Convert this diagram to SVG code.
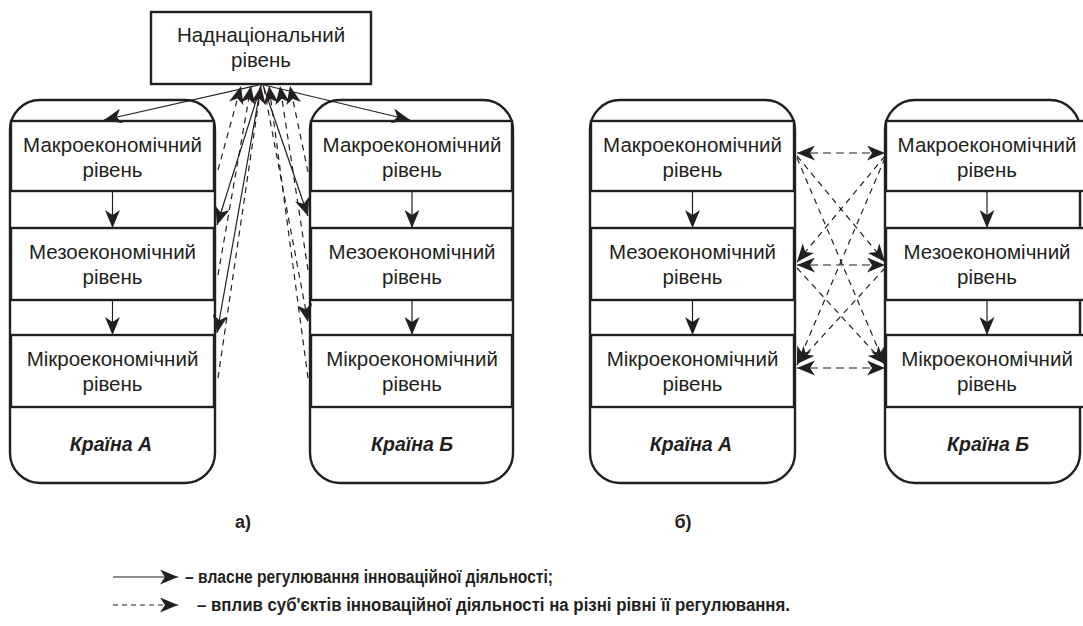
<svg xmlns="http://www.w3.org/2000/svg" width="1083" height="626" viewBox="0 0 1083 626">
<style>
.cont{fill:#fff;stroke:#231f20;stroke-width:2.4}
.box{fill:#fff;stroke:#231f20;stroke-width:2.4}
.t{font-family:"Liberation Sans",Arial,sans-serif;font-size:20.5px;fill:#231f20;text-anchor:middle}
.c{font-weight:bold;font-style:italic;font-size:19.5px}
.b{font-family:"Liberation Sans",Arial,sans-serif;font-weight:bold;font-size:18px;fill:#231f20}
.s{stroke:#231f20;stroke-width:1.2;fill:none;marker-end:url(#ah)}
.d{stroke:#231f20;stroke-width:1.2;fill:none;stroke-dasharray:6 5}
.up{marker-end:url(#ah)}
.bi{marker-start:url(#ah);marker-end:url(#ah)}
</style>
<defs>
<marker id="ah" markerUnits="userSpaceOnUse" viewBox="0 0 18 15" refX="18" refY="7.5" markerWidth="18" markerHeight="15" orient="auto-start-reverse">
<path d="M0,0 L18,7.5 L0,15 L5,7.5 Z" fill="#231f20"/>
</marker>
</defs>
<rect width="1083" height="626" fill="#fff"/>

<g id="supranational">
<rect class="box" x="151" y="12" width="220" height="72"/>
<text class="t" x="261" y="42">Наднаціональний</text>
<text class="t" x="261" y="67">рівень</text>
</g>

<g id="countryA-a">
<rect class="cont" x="10" y="100" width="205" height="383" rx="30"/>
<rect class="box" x="11" y="121" width="203" height="70"/>
<text class="t" x="112.5" y="152">Макроекономічний</text>
<text class="t" x="112.5" y="177">рівень</text>
<rect class="box" x="11" y="228" width="203" height="72"/>
<text class="t" x="112.5" y="259">Мезоекономічний</text>
<text class="t" x="112.5" y="284">рівень</text>
<rect class="box" x="11" y="335" width="203" height="72"/>
<text class="t" x="112.5" y="366">Мікроекономічний</text>
<text class="t" x="112.5" y="391">рівень</text>
<text class="t c" x="111" y="451">Країна А</text>
</g>

<g id="countryB-a">
<rect class="cont" x="310" y="100" width="203" height="383" rx="30"/>
<rect class="box" x="311" y="121" width="201" height="70"/>
<text class="t" x="412" y="152">Макроекономічний</text>
<text class="t" x="412" y="177">рівень</text>
<rect class="box" x="311" y="228" width="201" height="72"/>
<text class="t" x="412" y="259">Мезоекономічний</text>
<text class="t" x="412" y="284">рівень</text>
<rect class="box" x="311" y="335" width="201" height="72"/>
<text class="t" x="412" y="366">Мікроекономічний</text>
<text class="t" x="412" y="391">рівень</text>
<text class="t c" x="412" y="451">Країна Б</text>
</g>

<g id="countryA-b">
<rect class="cont" x="590" y="100" width="205" height="383" rx="30"/>
<rect class="box" x="591" y="121" width="203" height="70"/>
<text class="t" x="692.5" y="152">Макроекономічний</text>
<text class="t" x="692.5" y="177">рівень</text>
<rect class="box" x="591" y="228" width="203" height="72"/>
<text class="t" x="692.5" y="259">Мезоекономічний</text>
<text class="t" x="692.5" y="284">рівень</text>
<rect class="box" x="591" y="335" width="203" height="72"/>
<text class="t" x="692.5" y="366">Мікроекономічний</text>
<text class="t" x="692.5" y="391">рівень</text>
<text class="t c" x="691" y="451">Країна А</text>
</g>

<g id="countryB-b">
<rect class="cont" x="885" y="100" width="195" height="383" rx="30"/>
<rect class="box" x="886" y="121" width="200" height="70"/>
<text class="t" x="987" y="152">Макроекономічний</text>
<text class="t" x="987" y="177">рівень</text>
<rect class="box" x="886" y="228" width="200" height="72"/>
<text class="t" x="987" y="259">Мезоекономічний</text>
<text class="t" x="987" y="284">рівень</text>
<rect class="box" x="886" y="335" width="200" height="72"/>
<text class="t" x="987" y="366">Мікроекономічний</text>
<text class="t" x="987" y="391">рівень</text>
<text class="t c" x="988" y="451">Країна Б</text>
</g>

<g id="connectors">
<!-- vertical arrows inside countries -->
<line class="s" x1="112.5" y1="191" x2="112.5" y2="228"/>
<line class="s" x1="112.5" y1="300" x2="112.5" y2="335"/>
<line class="s" x1="412" y1="191" x2="412" y2="228"/>
<line class="s" x1="412" y1="300" x2="412" y2="335"/>
<line class="s" x1="692.5" y1="191" x2="692.5" y2="228"/>
<line class="s" x1="692.5" y1="300" x2="692.5" y2="335"/>
<line class="s" x1="987" y1="191" x2="987" y2="228"/>
<line class="s" x1="987" y1="300" x2="987" y2="335"/>

<!-- panel a: regulation from supranational level -->
<line class="s" x1="259" y1="85" x2="104" y2="120"/>
<line class="s" x1="264" y1="85" x2="410" y2="120"/>
<line class="s" x1="261" y1="85" x2="217" y2="225"/>
<line class="s" x1="261" y1="85" x2="217" y2="333"/>
<line class="s" x1="263" y1="85" x2="308" y2="216"/>
<line class="d up" x1="264" y1="88" x2="308" y2="322"/>

<!-- panel a: influence upward -->
<line class="d up" x1="218" y1="170" x2="241" y2="86"/>
<line class="d up" x1="218" y1="275" x2="251" y2="86"/>
<line class="d up" x1="218" y1="378" x2="261" y2="86"/>
<line class="d up" x1="308" y1="172" x2="290" y2="86"/>
<line class="d up" x1="308" y1="270" x2="280" y2="86"/>
<line class="d up" x1="308" y1="378" x2="269" y2="86"/>

<!-- panel b: mutual influence -->
<line class="d bi" x1="797" y1="153" x2="885" y2="153" style="stroke-dasharray:8 5"/>
<line class="d bi" x1="797" y1="265" x2="885" y2="265" style="stroke-dasharray:8 5"/>
<line class="d bi" x1="797" y1="368" x2="885" y2="368" style="stroke-dasharray:8 5"/>
<line class="d up" x1="797" y1="156" x2="885" y2="262"/>
<line class="d up" x1="885" y1="156" x2="797" y2="262"/>
<line class="d up" x1="797" y1="158" x2="885" y2="365"/>
<line class="d up" x1="885" y1="158" x2="797" y2="365"/>
<line class="d up" x1="797" y1="268" x2="885" y2="364"/>
<line class="d up" x1="885" y1="268" x2="797" y2="364"/>

<!-- legend arrows -->
<line class="s" x1="113" y1="577" x2="178" y2="577"/>
<line class="d up" x1="113" y1="605" x2="178" y2="605" style="stroke-dasharray:5 4"/>
</g>

<g id="labels">
<text class="b" x="243" y="528" text-anchor="middle">а)</text>
<text class="b" x="683" y="528" text-anchor="middle">б)</text>
<text class="b" x="185" y="583" textLength="368" lengthAdjust="spacingAndGlyphs">– власне регулювання інноваційної діяльності;</text>
<text class="b" x="197" y="611" textLength="593" lengthAdjust="spacingAndGlyphs">– вплив суб'єктів інноваційної діяльності на різні рівні її регулювання.</text>
</g>
</svg>
